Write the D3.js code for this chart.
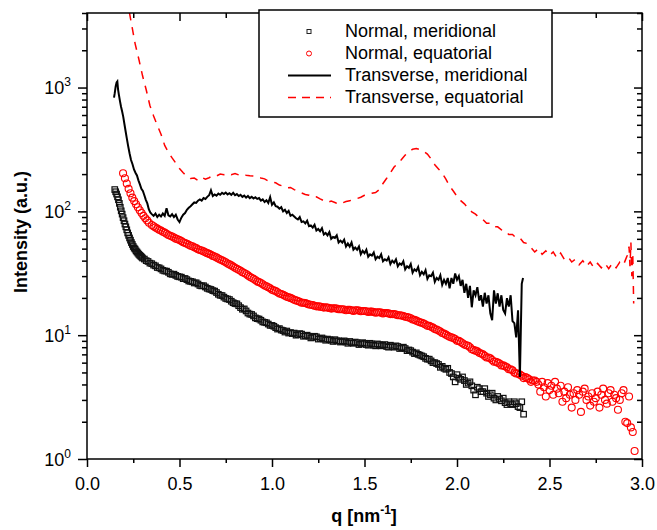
<!DOCTYPE html>
<html>
<head>
<meta charset="utf-8">
<script src="https://cdn.jsdelivr.net/npm/d3@7"></script>
<style>
  body { margin: 0; background: #fff; }
  svg { display: block; }
  text { font-family: "Liberation Sans", Arial, sans-serif; fill: #000; }
</style>
</head>
<body>
<svg id="chart" width="657" height="530"></svg>
<script>
// SAXS intensity profiles, [q (nm^-1), intensity (a.u.)]
const normalMeridional = [
  [0.15,150],[0.155,144],[0.16,138],[0.165,131],[0.17,124],[0.175,116],[0.18,108],[0.185,101],
  [0.19,95],[0.195,89],[0.20,84],[0.205,79],[0.21,75],[0.215,71],[0.22,67],[0.225,64],
  [0.23,61],[0.235,58.5],[0.24,56],[0.245,54],[0.25,52],[0.255,50.5],[0.26,49.5],[0.265,48],
  [0.27,47],[0.275,46],[0.28,45],[0.285,44.2],[0.29,43.5],[0.295,42.8],
  [0.30,42],[0.31,41.2],[0.32,40],[0.33,39.4],[0.34,38.2],[0.35,37.8],[0.36,36.8],[0.37,36.3],
  [0.38,35.2],[0.39,35.0],[0.40,34.3],[0.41,33.4],[0.42,33.0],[0.43,32.9],[0.44,32.2],[0.45,31.3],
  [0.46,31.0],[0.47,31.1],[0.48,30.4],[0.49,29.8],[0.50,29.6],[0.51,29.4],[0.52,28.6],[0.53,28.7],
  [0.54,28.1],[0.55,27.4],[0.56,27.2],[0.57,27.0],[0.58,26.4],[0.59,26.5],[0.60,25.9],[0.61,25.2],
  [0.62,25.0],[0.63,25.1],[0.64,24.5],[0.65,23.9],[0.66,23.6],[0.67,23.4],[0.68,22.9],[0.69,22.7],
  [0.70,22.1],[0.71,21.4],[0.72,21.0],[0.73,20.9],[0.74,20.3],[0.75,19.8],[0.76,19.6],[0.77,19.4],
  [0.78,18.8],[0.79,18.3],[0.80,18.0],[0.81,17.9],[0.82,17.3],[0.83,16.7],[0.84,16.2],[0.85,16.3],
  [0.86,15.7],[0.87,15.1],[0.88,14.8],[0.89,14.7],[0.90,14.3],[0.91,13.8],[0.92,13.6],[0.93,13.5],
  [0.94,13.2],[0.95,12.8],[0.96,12.7],[0.97,12.6],[0.98,12.3],[0.99,12.0],[1.00,12.0],[1.01,11.8],
  [1.02,11.5],[1.03,11.2],[1.04,11.3],[1.05,11.0],[1.06,10.9],[1.07,10.6],[1.08,10.8],[1.09,10.4],
  [1.10,10.5],[1.11,10.3],[1.12,10.4],[1.13,10.0],[1.14,10.1],[1.15,10.3],[1.16,10.2],[1.17,9.8],
  [1.18,9.9],[1.19,10.0],[1.20,9.8],[1.21,9.5],[1.22,9.6],[1.23,9.8],[1.24,9.7],[1.25,9.3],
  [1.26,9.4],[1.27,9.5],[1.28,9.3],[1.29,9.1],[1.30,9.3],[1.31,9.2],[1.32,9.1],[1.33,8.9],
  [1.34,9.2],[1.35,9.0],[1.36,9.0],[1.37,8.8],[1.38,8.9],[1.39,9.0],[1.40,8.8],[1.41,8.6],
  [1.42,8.9],[1.43,8.7],[1.44,8.6],[1.45,8.8],[1.46,8.7],[1.47,8.4],[1.48,8.5],[1.49,8.7],
  [1.50,8.6],[1.51,8.4],[1.52,8.3],[1.53,8.6],[1.54,8.5],[1.55,8.3],[1.56,8.2],[1.57,8.5],
  [1.58,8.4],[1.59,8.2],[1.60,8.3],[1.61,8.4],[1.62,8.1],[1.63,8.0],[1.64,8.3],[1.65,8.1],
  [1.66,8.0],[1.67,8.2],[1.68,8.1],[1.69,7.8],[1.70,7.9],[1.71,8.0],[1.72,7.8],[1.73,7.5],
  [1.74,7.6],[1.75,7.5],[1.76,7.3],[1.77,7.1],[1.78,7.2],[1.79,7.0],[1.80,6.9],[1.81,6.8],
  [1.82,6.7],[1.83,6.5],[1.84,6.4],[1.85,6.4],[1.86,6.2],[1.87,6.0],[1.88,6.0],[1.89,5.9],
  [1.90,5.8],[1.91,5.5],[1.92,5.6],[1.93,5.4],[1.94,5.3],[1.95,5.4],[1.96,5.0],[1.97,4.9],
  [1.98,4.6],[1.99,4.2],[2.00,4.8],[2.01,4.5],[2.02,4.4],[2.03,4.6],[2.04,4.3],[2.05,4.0],
  [2.06,4.1],[2.07,4.2],[2.08,3.9],[2.09,3.6],[2.10,3.3],[2.11,3.8],[2.12,3.7],[2.13,3.5],
  [2.14,3.5],[2.15,3.7],[2.16,3.4],[2.17,3.2],[2.18,3.3],[2.19,3.4],[2.20,3.1],[2.21,3.0],
  [2.22,3.2],[2.23,3.05],[2.24,2.95],[2.25,3.1],[2.26,2.85],[2.27,2.75],[2.28,2.9],[2.29,2.8],
  [2.30,2.75],[2.31,2.9],[2.32,2.8],[2.33,2.65],[2.34,2.6],[2.35,2.9],[2.36,2.3]
];

const normalEquatorial = [
  [0.195,203],[0.205,185],[0.215,168],[0.225,152],[0.235,140],[0.245,129],[0.255,121],[0.265,114],
  [0.275,108],[0.285,102],[0.295,97],[0.305,92],[0.315,88],[0.325,84.5],[0.335,81],
  [0.35,77.5],[0.36,75.8],[0.37,74],[0.38,72.6],[0.39,71],[0.40,69.9],[0.41,68.5],[0.42,67.4],
  [0.43,66],[0.44,64.5],[0.45,63.5],[0.46,62.6],[0.47,61.5],[0.48,60.2],[0.49,59.5],[0.50,58.6],
  [0.51,57.5],[0.52,56.3],[0.53,55.5],[0.54,54.8],[0.55,53.8],[0.56,52.8],[0.57,52.2],[0.58,51.2],
  [0.59,50.5],[0.60,49.4],[0.61,48.8],[0.62,48.3],[0.63,47.5],[0.64,46.6],[0.65,46.0],[0.66,45.4],
  [0.67,44.6],[0.68,43.7],[0.69,43.2],[0.70,42.5],[0.71,41.6],[0.72,40.8],[0.73,40.2],[0.74,39.6],
  [0.75,38.8],[0.76,37.9],[0.77,37.3],[0.78,36.6],[0.79,35.8],[0.80,35.0],[0.81,34.4],[0.82,33.8],
  [0.83,33.1],[0.84,32.3],[0.85,31.8],[0.86,31.2],[0.87,30.4],[0.88,29.6],[0.89,29.1],[0.90,28.6],
  [0.91,27.9],[0.92,27.2],[0.93,26.8],[0.94,26.4],[0.95,25.8],[0.96,25.2],[0.97,24.8],[0.98,24.4],
  [0.99,23.9],[1.00,23.3],[1.01,23.0],[1.02,22.7],[1.03,22.2],[1.04,21.7],[1.05,21.5],[1.06,21.2],
  [1.07,20.8],[1.08,20.4],[1.09,20.2],[1.10,20.0],[1.11,19.7],[1.12,19.3],[1.13,19.1],[1.14,18.9],
  [1.15,18.6],[1.16,18.3],[1.17,18.3],[1.18,18.2],[1.19,17.9],[1.20,17.7],[1.21,17.6],[1.22,17.5],
  [1.23,17.3],[1.24,17.1],[1.25,17.1],[1.26,17.0],[1.27,16.9],[1.28,16.7],[1.29,16.8],[1.30,16.7],
  [1.31,16.6],[1.32,16.4],[1.33,16.5],[1.34,16.5],[1.35,16.4],[1.36,16.2],[1.37,16.2],[1.38,16.2],
  [1.39,16.1],[1.40,15.9],[1.41,16.0],[1.42,16.0],[1.43,15.9],[1.44,15.7],[1.45,15.9],[1.46,15.9],
  [1.47,15.8],[1.48,15.6],[1.49,15.7],[1.50,15.7],[1.51,15.6],[1.52,15.4],[1.53,15.5],[1.54,15.5],
  [1.55,15.4],[1.56,15.2],[1.57,15.3],[1.58,15.3],[1.59,15.2],[1.60,15.0],[1.61,15.1],[1.62,15.1],
  [1.63,15.0],[1.64,14.8],[1.65,14.8],[1.66,14.8],[1.67,14.7],[1.68,14.5],[1.69,14.5],[1.70,14.4],
  [1.71,14.3],[1.72,14.1],[1.73,14.0],[1.74,13.9],[1.75,13.7],[1.76,13.4],[1.77,13.3],[1.78,13.1],
  [1.79,12.9],[1.80,12.7],[1.81,12.6],[1.82,12.4],[1.83,12.2],[1.84,11.9],[1.85,11.9],[1.86,11.7],
  [1.87,11.5],[1.88,11.2],[1.89,11.1],[1.90,10.9],[1.91,10.7],[1.92,10.4],[1.93,10.3],[1.94,10.1],
  [1.95,9.9],[1.96,9.7],[1.97,9.6],[1.98,9.5],[1.99,9.3],[2.00,9.0],[2.01,9.0],[2.02,8.8],
  [2.03,8.6],[2.04,8.4],[2.05,8.3],[2.06,8.2],[2.07,8.0],[2.08,7.7],[2.09,7.6],[2.10,7.5],
  [2.11,7.4],[2.12,7.2],[2.13,7.1],[2.14,7.0],[2.15,6.8],[2.16,6.6],[2.17,6.6],[2.18,6.5],
  [2.19,6.3],[2.20,6.1],[2.21,6.1],[2.22,6.0],[2.23,5.9],[2.24,5.7],[2.25,5.7],[2.26,5.6],
  [2.27,5.5],[2.28,5.3],[2.29,5.3],[2.30,5.2],[2.31,5.0],[2.32,4.9],[2.33,4.9],[2.34,4.8],
  [2.35,4.7],[2.36,4.5],[2.37,4.6],[2.38,4.5],[2.39,4.4],[2.40,4.2],[2.41,4.3],[2.42,4.3],
  [2.43,4.2],[2.44,4.0],[2.45,3.5],[2.46,4.2],[2.47,3.8],[2.48,3.2],[2.49,4.1],[2.50,3.6],
  [2.51,3.9],[2.52,3.3],[2.53,4.2],[2.54,3.7],[2.55,3.4],[2.56,3.9],[2.57,2.9],[2.58,3.5],
  [2.59,3.1],[2.60,3.8],[2.61,3.3],[2.62,2.6],[2.63,3.4],[2.64,3.0],[2.65,3.6],[2.66,3.3],
  [2.67,2.4],[2.68,3.5],[2.69,3.7],[2.70,3.0],[2.71,3.2],[2.72,2.7],[2.73,3.4],[2.74,2.9],
  [2.75,3.1],[2.76,3.5],[2.77,2.6],[2.78,3.3],[2.79,3.7],[2.80,3.0],[2.81,2.8],[2.82,3.4],
  [2.83,3.6],[2.84,2.9],[2.85,3.3],[2.86,3.1],[2.87,2.5],[2.88,3.0],[2.89,3.4],[2.90,3.6],
  [2.91,2.0],[2.92,1.95],[2.93,3.2],[2.94,1.8],[2.95,1.65],[2.96,1.16]
];

const transverseMeridional = [
  [0.146,830],[0.150,900],[0.155,1020],[0.160,1100],[0.164,1120],[0.168,960],[0.172,880],[0.178,780],
  [0.184,700],[0.190,640],[0.196,580],[0.202,510],[0.208,450],[0.215,390],[0.222,340],[0.230,295],
  [0.238,260],[0.246,240],[0.254,218],[0.262,205],[0.270,195],[0.278,178],[0.286,165],[0.294,152],
  [0.302,146],[0.310,135],[0.318,124],[0.326,116],[0.334,104],[0.342,98],[0.350,95],
  [0.36,92],[0.37,96],[0.38,90],[0.39,94],[0.40,91],[0.41,96],[0.42,92],[0.43,106],
  [0.44,93],[0.45,91],[0.46,95],[0.47,90],[0.48,94],[0.49,86],[0.50,82],[0.51,89],
  [0.52,94],[0.53,97],[0.54,103],[0.55,107],[0.56,110],[0.57,114],[0.58,118],[0.59,117],
  [0.60,122],[0.61,125],[0.62,122],[0.63,128],[0.64,126],[0.65,131],[0.66,135],[0.67,148],
  [0.68,133],[0.69,137],[0.70,134],[0.71,139],[0.72,136],[0.73,141],[0.74,138],[0.75,142],
  [0.76,137],[0.77,140],[0.78,136],[0.79,141],[0.80,135],[0.81,138],[0.82,133],[0.83,136],
  [0.84,131],[0.85,134],[0.86,129],[0.87,133],[0.88,128],[0.89,131],[0.90,127],[0.91,130],
  [0.92,126],[0.93,128],[0.94,122],[0.95,125],[0.96,119],[0.97,123],[0.98,117],[0.99,130],
  [1.00,113],[1.01,118],[1.02,110],[1.03,109],[1.04,105],[1.05,108],[1.06,100],[1.07,103],
  [1.08,97],[1.09,101],[1.10,92],[1.11,94],[1.12,91],[1.13,88],[1.14,86],[1.15,90],
  [1.16,82],[1.17,83],[1.18,80],[1.19,84],[1.20,76],[1.21,77],[1.22,74],[1.23,78],
  [1.24,70],[1.25,72],[1.26,69],[1.27,73],[1.28,65],[1.29,67],[1.30,64],[1.31,68],
  [1.32,60],[1.33,62],[1.34,61],[1.35,64],[1.36,56],[1.37,58],[1.38,56],[1.39,59],
  [1.40,52],[1.41,55],[1.42,52],[1.43,56],[1.44,49],[1.45,51],[1.46,49],[1.47,52],
  [1.48,45],[1.49,48],[1.50,46],[1.51,49],[1.52,43],[1.53,45],[1.54,44],[1.55,46.5],
  [1.56,41],[1.57,43],[1.58,42],[1.59,45],[1.60,39.5],[1.61,41],[1.62,40],[1.63,42.5],
  [1.64,37.5],[1.65,40],[1.66,38.5],[1.67,41],[1.68,36],[1.69,38],[1.70,37],[1.71,39.5],
  [1.72,34],[1.73,36],[1.74,35],[1.75,37.5],[1.76,32],[1.77,34],[1.78,33],[1.79,35.5],
  [1.80,30.5],[1.81,32.5],[1.82,31],[1.83,33.5],[1.84,28.5],[1.85,30.5],[1.86,30],[1.87,32],
  [1.88,27],[1.89,29],[1.90,28],[1.91,30.5],[1.92,25.5],[1.93,28],[1.94,26],[1.95,29],
  [1.96,23.9],[1.97,29],[1.98,26],[1.99,31.5],[2.00,28],[2.01,30],[2.02,25],[2.03,28],
  [2.04,22],[2.05,26],[2.06,20],[2.07,25],[2.08,16.8],[2.09,23],[2.10,21],[2.11,24.4],
  [2.12,19],[2.13,21],[2.14,17],[2.15,22],[2.16,18],[2.17,21],[2.18,15],[2.19,13.2],
  [2.20,23],[2.21,18],[2.22,21.8],[2.23,17],[2.24,21],[2.25,16],[2.26,15],[2.27,19.9],
  [2.28,17],[2.29,21],[2.30,13],[2.31,12.5],[2.32,9.6],[2.33,15.9],[2.34,4.6],[2.35,26],[2.357,29]
];

const transverseEquatorial = [
  [0.20,7000],[0.22,4800],[0.24,3300],[0.26,2264],[0.28,1700],[0.30,1250],[0.32,960],[0.34,716],
  [0.36,590],[0.38,494],[0.40,420],[0.42,341],[0.44,300],[0.46,270],[0.48,245],[0.50,222],
  [0.52,205],[0.54,192],[0.56,184],[0.58,186],[0.60,178],[0.62,188],[0.64,182],[0.66,187],
  [0.68,195],[0.70,193],[0.72,200],[0.74,198],[0.76,203],[0.78,198],[0.80,202],[0.82,197],
  [0.84,200],[0.86,196],[0.88,194],[0.90,193],[0.92,190],[0.94,186],[0.96,183],[0.98,176],
  [1.00,172],[1.02,170],[1.04,163],[1.06,160],[1.08,155],[1.10,156],[1.12,150],[1.14,145],
  [1.16,141],[1.18,137],[1.20,135],[1.22,130],[1.24,131],[1.26,126],[1.28,122],[1.30,118],
  [1.32,121],[1.34,118],[1.36,114],[1.38,117],[1.40,120],[1.42,122],[1.44,124],[1.46,127],
  [1.48,130],[1.50,135],[1.52,138],[1.54,140],[1.56,142],[1.58,150],[1.60,168],[1.62,185],
  [1.64,205],[1.66,228],[1.68,244],[1.70,262],[1.72,285],[1.74,300],[1.76,318],[1.78,322],
  [1.80,315],[1.82,305],[1.84,290],[1.86,265],[1.88,238],[1.90,220],[1.92,203],[1.94,182],
  [1.96,160],[1.98,146],[2.00,132],[2.02,122],[2.04,115],[2.06,106],[2.08,99],[2.10,95],
  [2.12,89],[2.14,86],[2.16,80],[2.18,80],[2.20,75],[2.22,75],[2.24,71],[2.26,70],
  [2.28,65],[2.30,65],[2.32,61],[2.34,61],[2.36,56],[2.38,55],[2.40,51],[2.42,47],
  [2.44,50],[2.46,45],[2.48,48],[2.50,44],[2.52,47],[2.54,42],[2.56,46],[2.58,41],
  [2.60,43],[2.62,39],[2.64,41],[2.66,37],[2.68,40],[2.70,36],[2.72,39],[2.74,35],
  [2.76,38],[2.78,35],[2.80,38],[2.82,34.5],[2.84,38],[2.86,35],[2.88,39],[2.90,37],
  [2.92,44],[2.93,52],[2.935,36],[2.94,56],[2.945,30],[2.95,46],[2.955,18]
];

// Axis ticks and legend text
const xTicks = [0, 0.5, 1.0, 1.5, 2.0, 2.5, 3.0];
const xMinorTicks = [0.25, 0.75, 1.25, 1.75, 2.25, 2.75];
const yDecades = [1, 10, 100, 1000];
const yExponents = ["0", "1", "2", "3"];
const legendLabels = ["Normal, meridional", "Normal, equatorial", "Transverse, meridional", "Transverse, equatorial"];

const plot = { left: 87, right: 642, top: 13, bottom: 459 };
const svg = d3.select("#chart");

const x = d3.scaleLinear().domain([0, 3]).range([plot.left, plot.right]);
const y = d3.scaleLog().domain([1, 4000]).range([plot.bottom, plot.top]);

// minor log ticks: 2..9 within each decade
const yMinorTicks = [];
yDecades.forEach(d => { for (let k = 2; k <= 9; k++) { if (d * k <= 4000) yMinorTicks.push(d * k); } });

function styleAxis(g) {
  g.select(".domain").remove();
  g.selectAll(".tick line").attr("stroke", "#000").attr("stroke-width", 1.5);
  g.selectAll("text").attr("font-size", 18).style("font-family", '"Liberation Sans", Arial, sans-serif');
}

// clip region for the data
svg.append("defs").append("clipPath").attr("id", "plotClip")
  .append("rect").attr("x", plot.left).attr("y", plot.top)
  .attr("width", plot.right - plot.left).attr("height", plot.bottom - plot.top);

const dataLayer = svg.append("g").attr("clip-path", "url(#plotClip)");

// Normal, meridional: open squares
dataLayer.append("g").selectAll("rect").data(normalMeridional).join("rect")
  .attr("x", d => x(d[0]) - 2.75).attr("y", d => y(d[1]) - 2.75)
  .attr("width", 5.5).attr("height", 5.5)
  .attr("fill", "none").attr("stroke", "#111").attr("stroke-width", 1.2);

// Normal, equatorial: open circles
dataLayer.append("g").selectAll("circle").data(normalEquatorial).join("circle")
  .attr("cx", d => x(d[0])).attr("cy", d => y(d[1])).attr("r", 3.5)
  .attr("fill", "none").attr("stroke", "#ff0000").attr("stroke-width", 1.1);

const line = d3.line().x(d => x(d[0])).y(d => y(d[1]));

// Transverse, meridional: solid black line
dataLayer.append("path").datum(transverseMeridional).attr("d", line)
  .attr("fill", "none").attr("stroke", "#000").attr("stroke-width", 2).attr("stroke-linejoin", "miter");

// Transverse, equatorial: dashed red line
dataLayer.append("path").datum(transverseEquatorial).attr("d", line)
  .attr("fill", "none").attr("stroke", "#ff0000").attr("stroke-width", 1.5)
  .attr("stroke-dasharray", "8,7");

// Axes
svg.append("g").attr("transform", `translate(0,${plot.bottom})`)
  .call(d3.axisBottom(x).tickValues(xTicks).tickSize(8).tickPadding(10).tickFormat(d3.format(".1f")))
  .call(styleAxis);
svg.append("g").attr("transform", `translate(0,${plot.bottom})`)
  .call(d3.axisBottom(x).tickValues(xMinorTicks).tickSize(4).tickFormat(""))
  .call(styleAxis);
svg.append("g").attr("transform", `translate(0,${plot.top})`)
  .call(d3.axisTop(x).tickValues(xTicks).tickSize(-8).tickFormat(""))
  .call(styleAxis);
svg.append("g").attr("transform", `translate(0,${plot.top})`)
  .call(d3.axisTop(x).tickValues(xMinorTicks).tickSize(-5).tickFormat(""))
  .call(styleAxis);

svg.append("g").attr("transform", `translate(${plot.left},0)`)
  .call(d3.axisLeft(y).tickValues(yDecades).tickSize(9).tickFormat(""))
  .call(styleAxis);
svg.append("g").attr("transform", `translate(${plot.left},0)`)
  .call(d3.axisLeft(y).tickValues(yMinorTicks).tickSize(5).tickFormat(""))
  .call(styleAxis);
svg.append("g").attr("transform", `translate(${plot.right},0)`)
  .call(d3.axisRight(y).tickValues(yDecades).tickSize(-8).tickFormat(""))
  .call(styleAxis);
svg.append("g").attr("transform", `translate(${plot.right},0)`)
  .call(d3.axisRight(y).tickValues(yMinorTicks).tickSize(-5).tickFormat(""))
  .call(styleAxis);

// power-of-ten labels on the left axis
const yLabels = svg.append("g");
yDecades.forEach((d, i) => {
  const t = yLabels.append("text")
    .attr("x", 71).attr("y", y(d) + 6.5)
    .attr("text-anchor", "end").attr("font-size", 18);
  t.append("tspan").text("10");
  t.append("tspan").attr("font-size", 12).attr("dy", -8).text(yExponents[i]);
});

// frame
svg.append("rect").attr("x", plot.left).attr("y", plot.top)
  .attr("width", plot.right - plot.left).attr("height", plot.bottom - plot.top)
  .attr("fill", "none").attr("stroke", "#000").attr("stroke-width", 1.5);

// axis titles
svg.append("text")
  .attr("transform", `translate(27,232) rotate(-90)`)
  .attr("text-anchor", "middle").attr("font-size", 18).attr("font-weight", "bold")
  .text("Intensity (a.u.)");

const xTitle = svg.append("text")
  .attr("x", 364).attr("y", 522)
  .attr("text-anchor", "middle").attr("font-size", 18).attr("font-weight", "bold");
xTitle.append("tspan").text("q [nm");
xTitle.append("tspan").attr("font-size", 12).attr("dy", -8).text("-1");
xTitle.append("tspan").attr("dy", 8).text("]");

// legend
const legend = svg.append("g");
legend.append("rect").attr("x", 259).attr("y", 10).attr("width", 293).attr("height", 107)
  .attr("fill", "#fff").attr("stroke", "#000").attr("stroke-width", 1.5);
const rowBase = [37, 59, 81, 103];
legendLabels.forEach((label, i) => {
  legend.append("text").attr("x", 345).attr("y", rowBase[i]).attr("font-size", 18).text(label);
});
const symY = rowBase.map(b => b - 5.5);
legend.append("rect").attr("x", 309 - 2).attr("y", symY[0] - 2).attr("width", 4).attr("height", 4)
  .attr("fill", "none").attr("stroke", "#222").attr("stroke-width", 1);
legend.append("circle").attr("cx", 309).attr("cy", symY[1]).attr("r", 2.5)
  .attr("fill", "none").attr("stroke", "#ff0000").attr("stroke-width", 1);
legend.append("line").attr("x1", 288).attr("x2", 331).attr("y1", symY[2]).attr("y2", symY[2])
  .attr("stroke", "#000").attr("stroke-width", 2);
legend.append("line").attr("x1", 288).attr("x2", 331).attr("y1", symY[3]).attr("y2", symY[3])
  .attr("stroke", "#ff0000").attr("stroke-width", 1.5).attr("stroke-dasharray", "8,6");
</script>
</body>
</html>
